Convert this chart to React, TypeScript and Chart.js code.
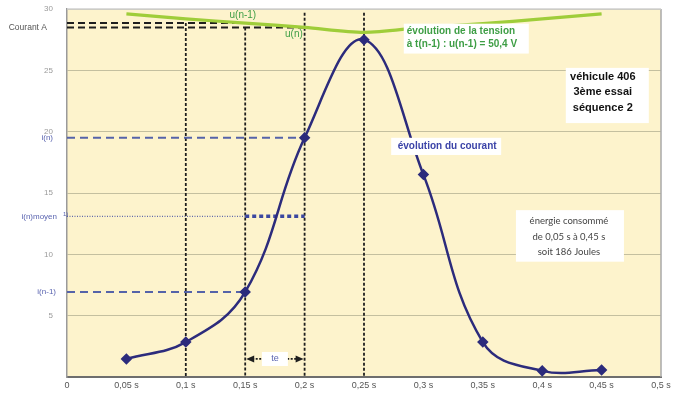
import React, { useEffect, useRef } from "react";
import { Chart, registerables } from "chart.js";

Chart.register(...registerables);

// ---- data ----
const times = [0.05, 0.1, 0.15, 0.2, 0.25, 0.3, 0.35, 0.4, 0.45];
const current = [1.47, 2.85, 6.93, 19.5, 27.5, 16.5, 2.85, 0.5, 0.57];
const voltageScaled = [29.6, 29.2, 28.85, 28.5, 28.1, 28.5, 28.8, 29.2, 29.6];
const xTicks = [0, 0.05, 0.1, 0.15, 0.2, 0.25, 0.3, 0.35, 0.4, 0.45, 0.5];
const yTicks = [0, 5, 10, 15, 20, 25, 30];

const tPrev = 0.15;
const tCur = 0.2;
const iMoyen = 13.1;
const verticalTopTimes = [0.1, 0.15, 0.2, 0.25];
const verticalTopTop = 29.7;

const tensionLines = ["évolution de la tension", "à t(n-1) : u(n-1) = 50,4 V"];
const vehicleLines = ["véhicule 406", "3ème essai", "séquence 2"];
const energyLines = ["énergie consommé", "de 0,05 s à 0,45 s", "soit 186 Joules"];
const courantLabel = "évolution du courant";

const FONT = "'Liberation Sans', Arial, sans-serif";
const NAVY = "#2c2b7c";
const BLUE_DASH = "#5563a9";
const GREEN_LINE = "#9fcd3a";
const GREEN_TEXT = "#3e9e45";
const LABEL_BLUE = "#5a64b0";

function fmtX(v: number): string {
  if (v === 0) return "0";
  return String(Math.round(v * 100) / 100).replace(".", ",") + " s";
}

const annotPlugin = {
  id: "annot",
  beforeDraw(chart: any) {
    const { ctx, chartArea: a } = chart;
    ctx.save();
    ctx.fillStyle = "#fdf3cc";
    ctx.fillRect(a.left, a.top, a.right - a.left, a.bottom - a.top);
    ctx.restore();
  },
  beforeDatasetsDraw(chart: any) {
    const { ctx, chartArea: a, scales } = chart;
    const px = (v: number) => scales.x.getPixelForValue(v);
    const py = (v: number) => scales.y.getPixelForValue(v);
    const uPrev = voltageScaled[times.indexOf(tPrev)];
    const uCur = voltageScaled[times.indexOf(tCur)];
    const iPrev = current[times.indexOf(tPrev)];
    const iCur = current[times.indexOf(tCur)];
    const vTops = [uPrev, uCur, verticalTopTop, verticalTopTop];

    const line = (x1: number, y1: number, x2: number, y2: number, color: string, w: number, dash: number[]) => {
      ctx.save();
      ctx.strokeStyle = color;
      ctx.lineWidth = w;
      ctx.setLineDash(dash);
      ctx.beginPath();
      ctx.moveTo(x1, y1);
      ctx.lineTo(x2, y2);
      ctx.stroke();
      ctx.restore();
    };

    // right / top borders
    ctx.save();
    ctx.strokeStyle = "#a8a8a8";
    ctx.lineWidth = 1.5;
    ctx.beginPath();
    ctx.moveTo(a.right, a.top);
    ctx.lineTo(a.right, a.bottom);
    ctx.stroke();
    ctx.strokeStyle = "#d0d0d0";
    ctx.beginPath();
    ctx.moveTo(a.left, a.top);
    ctx.lineTo(a.right, a.top);
    ctx.stroke();
    ctx.restore();

    // vertical dotted lines
    verticalTopTimes.forEach((t, i) => {
      line(px(t), py(vTops[i]), px(t), a.bottom, "#1e1e1e", 1.8, [3, 2]);
    });
    // black dashed horizontals for u(n-1), u(n)
    line(a.left, py(uPrev), px(tPrev), py(uPrev), "#1e1e1e", 2, [7, 4]);
    line(a.left, py(uCur), px(tCur), py(uCur), "#1e1e1e", 2, [7, 4]);

    // blue dashed horizontals
    line(a.left, py(iCur), px(tCur), py(iCur), BLUE_DASH, 2, [8, 5]);
    line(a.left, py(iPrev), px(tPrev), py(iPrev), BLUE_DASH, 2, [8, 5]);
    line(a.left, py(iMoyen), px(tPrev), py(iMoyen), "#3b47a0", 1, [1, 1.5]);
    line(px(tPrev), py(iMoyen), px(tCur), py(iMoyen), "#3b47a0", 3.5, [4, 3]);

    // te arrow
    const ya = py(current[0]);
    const xa1 = px(tPrev) + 1;
    const xa2 = px(tCur) - 1;
    line(xa1 + 6, ya, xa2 - 6, ya, "#1e1e1e", 1.8, [2, 1.5]);
    ctx.save();
    ctx.fillStyle = "#1e1e1e";
    ctx.beginPath();
    ctx.moveTo(xa1, ya);
    ctx.lineTo(xa1 + 8, ya - 3.5);
    ctx.lineTo(xa1 + 8, ya + 3.5);
    ctx.closePath();
    ctx.fill();
    ctx.beginPath();
    ctx.moveTo(xa2, ya);
    ctx.lineTo(xa2 - 8, ya - 3.5);
    ctx.lineTo(xa2 - 8, ya + 3.5);
    ctx.closePath();
    ctx.fill();
    ctx.restore();
  },
  afterDatasetsDraw(chart: any) {
    const { ctx, chartArea: a, scales } = chart;
    const px = (v: number) => scales.x.getPixelForValue(v);
    const py = (v: number) => scales.y.getPixelForValue(v);
    const iPrev = current[times.indexOf(tPrev)];
    const iCur = current[times.indexOf(tCur)];

    const box = (x1: number, y1: number, x2: number, y2: number) => {
      ctx.save();
      ctx.fillStyle = "#ffffff";
      ctx.fillRect(x1, y1, x2 - x1, y2 - y1);
      ctx.restore();
    };
    const text = (s: string, x: number, y: number, font: string, color: string, align: CanvasTextAlign) => {
      ctx.save();
      ctx.font = font;
      ctx.fillStyle = color;
      ctx.textAlign = align;
      ctx.textBaseline = "middle";
      ctx.fillText(s, x, y);
      ctx.restore();
    };

    // "te" label
    const ya = py(current[0]);
    const xm = (px(tPrev) + px(tCur)) / 2;
    box(xm - 13, ya - 7, xm + 13, ya + 7);
    text("te", xm, ya, `9px ${FONT}`, LABEL_BLUE, "center");

    // tension box
    const tx = px(0.286);
    const ty1 = py(28.15);
    const ty2 = py(27.1);
    box(tx - 3, ty1 - 8, tx + 122, ty2 + 9);
    text(tensionLines[0], tx, ty1, `bold 10px ${FONT}`, GREEN_TEXT, "left");
    text(tensionLines[1], tx, ty2, `bold 10px ${FONT}`, GREEN_TEXT, "left");

    // green u labels
    text("u(n-1)", px(0.148), py(29.45), `10px ${FONT}`, GREEN_TEXT, "center");
    text("u(n)", px(0.191), py(27.95), `10px ${FONT}`, GREEN_TEXT, "center");

    // vehicle box
    const vx = px(0.451);
    box(vx - 37, py(25.2), vx + 46, py(20.7));
    [24.45, 23.2, 21.95].forEach((v, i) => {
      text(vehicleLines[i], vx, py(v), `bold 11px ${FONT}`, "#111111", "center");
    });

    // courant label
    const cx = px(0.32);
    box(cx - 56, py(19.5), cx + 54, py(18.1));
    text(courantLabel, cx, py(18.8), `bold 10px ${FONT}`, "#3c44a8", "center");

    // energy box
    const ex = px(0.4225);
    box(ex - 53, py(13.6), ex + 55, py(9.4));
    [12.7, 11.4, 10.2].forEach((v, i) => {
      text(energyLines[i], ex, py(v), `9.5px Lato, ${FONT}`, "#444444", "center");
    });

    // left-side labels
    const lx = a.left;
    text("Courant A", lx - 20, py(28.45), `8.5px ${FONT}`, "#555555", "right");
    text("i(n)", lx - 14, py(iCur), `8px ${FONT}`, LABEL_BLUE, "right");
    text("i(n)moyen", lx - 10, py(iMoyen), `8px ${FONT}`, LABEL_BLUE, "right");
    text("1)", lx - 4, py(iMoyen) - 2, `6px ${FONT}`, LABEL_BLUE, "left");
    text("i(n-1)", lx - 11, py(iPrev), `8px ${FONT}`, LABEL_BLUE, "right");
  },
};

export default function App() {
  const ref = useRef<HTMLCanvasElement | null>(null);
  useEffect(() => {
    if (!ref.current) return;
    const chart = new Chart(ref.current, {
      type: "line",
      data: {
        datasets: [
          {
            label: "tension",
            data: times.map((t, i) => ({ x: t, y: voltageScaled[i] })),
            borderColor: GREEN_LINE,
            borderWidth: 3.2,
            pointRadius: 0,
            tension: 0.3,
            fill: false,
          },
          {
            label: "courant",
            data: times.map((t, i) => ({ x: t, y: current[i] })),
            borderColor: NAVY,
            backgroundColor: NAVY,
            borderWidth: 2.5,
            pointStyle: "rectRot",
            pointRadius: 4,
            tension: 0.4,
            fill: false,
          },
        ],
      },
      options: {
        animation: false,
        responsive: false,
        maintainAspectRatio: false,
        layout: { padding: { top: 9, right: 19, left: 0, bottom: 0 } },
        plugins: { legend: { display: false }, tooltip: { enabled: false } },
        scales: {
          x: {
            type: "linear",
            min: 0,
            max: 0.5,
            afterBuildTicks: (s: any) => {
              s.ticks = xTicks.map((v) => ({ value: v }));
            },
            afterFit: (s: any) => {
              s.height = 17;
              s.paddingLeft = 0;
              s.paddingRight = 0;
            },
            grid: { display: false, drawTicks: false },
            border: { display: true, color: "#6e6e6e", width: 2 },
            ticks: {
              padding: 3,
              maxRotation: 0,
              autoSkip: false,
              color: "#555555",
              font: { family: FONT, size: 9 },
              callback: (v: any) => fmtX(Number(v)),
            },
          },
          y: {
            type: "linear",
            min: 0,
            max: 30,
            afterBuildTicks: (s: any) => {
              s.ticks = yTicks.map((v) => ({ value: v }));
            },
            afterFit: (s: any) => {
              s.width = 67;
              s.paddingTop = 0;
              s.paddingBottom = 0;
            },
            grid: { color: "#c4bf9f", lineWidth: 1, drawTicks: false },
            border: { display: true, color: "#9a9a9a", width: 1.5 },
            ticks: {
              padding: 14,
              color: "#9a9a9a",
              font: { family: FONT, size: 8 },
              callback: (v: any) => (Number(v) === 0 ? "" : String(v)),
            },
          },
        },
      },
      plugins: [annotPlugin],
    });
    return () => chart.destroy();
  }, []);
  return (
    <div style={{ position: "absolute", left: 0, top: 0, width: 680, height: 394, background: "#ffffff" }}>
      <canvas ref={ref} width={680} height={394} style={{ display: "block" }} />
    </div>
  );
}
